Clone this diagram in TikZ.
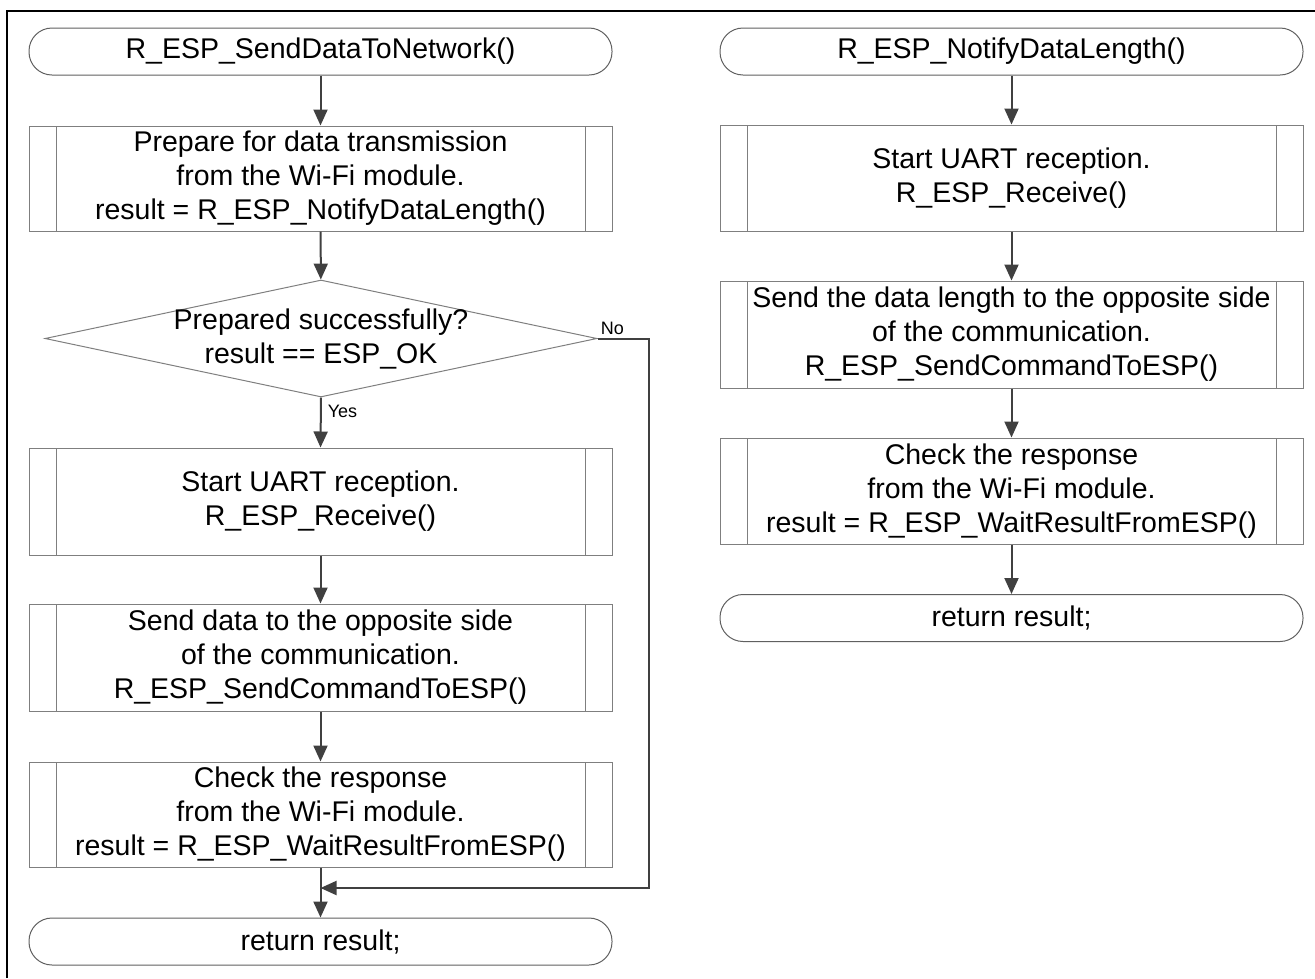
\documentclass[tikz,border=0pt]{standalone}
\usepackage{fontspec}
\setmainfont{Liberation Sans}
\usetikzlibrary{arrows.meta,shapes.geometric}
\definecolor{boxgray}{HTML}{7F7F7F}
\definecolor{arrowgray}{HTML}{404040}
\definecolor{termgray}{HTML}{606060}
\begin{document}
\begin{tikzpicture}[x=1pt,y=-1pt,
  font=\fontsize{28.5}{34}\selectfont,
  term/.style={draw=termgray, line width=1pt, rectangle, rounded corners=23pt,
    minimum width=583pt, minimum height=47pt, inner sep=0pt},
  proc/.style={draw=boxgray, line width=1pt, rectangle, minimum width=583pt,
    minimum height=#1, inner sep=0pt, align=center,
    path picture={
      \draw[boxgray, line width=1pt]
        ([xshift=27pt]path picture bounding box.north west) --
        ([xshift=27pt]path picture bounding box.south west);
      \draw[boxgray, line width=1pt]
        ([xshift=-27pt]path picture bounding box.north east) --
        ([xshift=-27pt]path picture bounding box.south east);}},
  decision/.style={draw=boxgray, line width=1pt, diamond, minimum width=552pt,
    minimum height=117pt, inner sep=0pt},
  arr/.style={draw=arrowgray, line width=2pt, -{Triangle[length=16pt,width=14pt]}},
  lbl/.style={font=\fontsize{18}{20}\selectfont, inner sep=1pt}
]
\useasboundingbox (0,0) rectangle (1315,978);
% frame
\draw[line width=2.5pt] (7,978) -- (7,11) -- (1315,11);

% left column
\node[term] (t1) at (320.5,51.5) {R\_ESP\_SendDataToNetwork()};
\node[proc=105pt] (p1) at (320.5,178.5) {Prepare for data transmission\\from the Wi-Fi module.\\result = R\_ESP\_NotifyDataLength()};
\node[decision] (d1) at (321,338.5) {};
\node[align=center, inner sep=0pt] (d1t) at (d1.center) {Prepared successfully?\\result == ESP\_OK};
\node[proc=107pt] (p2) at (320.5,501.5) {Start UART reception.\\R\_ESP\_Receive()};
\node[proc=107pt] (p3) at (320.5,657.5) {Send data to the opposite side\\of the communication.\\R\_ESP\_SendCommandToESP()};
\node[proc=105pt] (p4) at (320.5,814.5) {Check the response\\from the Wi-Fi module.\\result = R\_ESP\_WaitResultFromESP()};
\node[term] (t2) at (320.5,941.5) {return result;};
\coordinate (nocorner1) at (649,338.5);
\coordinate (nocorner2) at (649,888);
\coordinate (merge) at (320.5,888);

\draw[arr] (t1) -- (p1);
\draw[arr] (p1) -- (d1);
\draw[arr] (d1.south) -- node[lbl, pos=0.27, anchor=west, xshift=5pt] {Yes} (p2.north);
\draw[arr] (p2) -- (p3);
\draw[arr] (p3) -- (p4);
\draw[arr] (p4) -- (t2);
\draw[arr] (d1.east) -- node[lbl, pos=0.29, above, yshift=2pt] {No} (nocorner1) -- (nocorner2) -- (merge);

% right column
\node[term] (t3) at (1011.5,51.5) {R\_ESP\_NotifyDataLength()};
\node[proc=106pt] (q1) at (1011.5,178) {Start UART reception.\\R\_ESP\_Receive()};
\node[proc=107pt] (q2) at (1011.5,334.5) {Send the data length to the opposite side\\of the communication.\\R\_ESP\_SendCommandToESP()};
\node[proc=106pt] (q3) at (1011.5,491) {Check the response\\from the Wi-Fi module.\\result = R\_ESP\_WaitResultFromESP()};
\node[term] (t4) at (1011.5,618) {return result;};

\draw[arr] (t3) -- (q1);
\draw[arr] (q1) -- (q2);
\draw[arr] (q2) -- (q3);
\draw[arr] (q3) -- (t4);
\end{tikzpicture}
\end{document}
